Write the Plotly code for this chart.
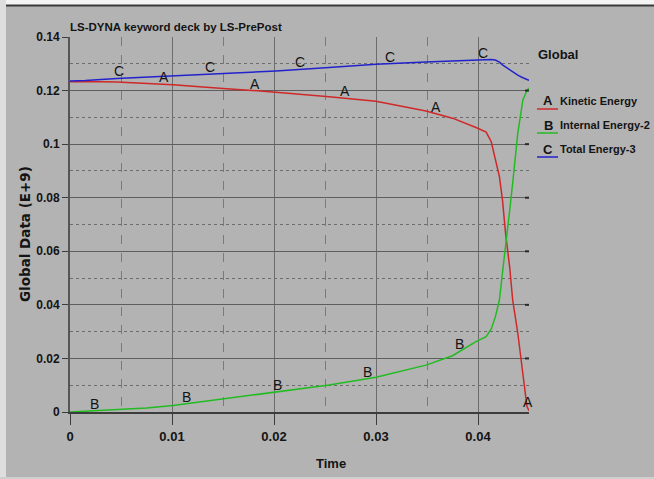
import numpy as np
import plotly.graph_objects as go

# ---- data -----------------------------------------------------------------
time = [0.0, 0.0015, 0.0046, 0.0075, 0.0101, 0.015, 0.0202, 0.0254, 0.030,
        0.0349, 0.0375, 0.0398, 0.0408, 0.0413, 0.0417, 0.0421, 0.0424,
        0.0427, 0.0431, 0.0434, 0.0439, 0.0444, 0.0448, 0.045]

kinetic = [0.1233, 0.1234, 0.1232, 0.1228, 0.1222, 0.1208, 0.1194, 0.1177,
           0.1160, 0.1124, 0.1097, 0.1062, 0.1045, 0.1009, 0.0945, 0.0879,
           0.0792, 0.0668, 0.0543, 0.0418, 0.0295, 0.0132, 0.0020, 0.0005]

internal = [0.0, 0.0003, 0.0007, 0.0015, 0.0024, 0.0048, 0.0076, 0.0101,
            0.0130, 0.0175, 0.0210, 0.0263, 0.0281, 0.0310, 0.0355, 0.0418,
            0.0520, 0.0630, 0.0750, 0.0855, 0.1040, 0.1165, 0.1200, 0.1210]

total = [0.1236, 0.1238, 0.1245, 0.1250, 0.1256, 0.1264, 0.1273, 0.1286,
         0.1298, 0.1307, 0.1311, 0.1316, 0.1316, 0.1316, 0.1314, 0.1306,
         0.1296, 0.1288, 0.1278, 0.1270, 0.1258, 0.1248, 0.1240, 0.1238]

series_names = ["Kinetic Energy", "Internal Energy-2", "Total Energy-3"]
series_letters = ["A", "B", "C"]
series_colors = ["#d02828", "#22bb22", "#2222cc"]

# where the curve letters sit along the time axis
letter_times_a = [0.0092, 0.0181, 0.0270, 0.0359, 0.0449]
letter_times_b = [0.0024, 0.0114, 0.0203, 0.0292, 0.0382]
letter_times_c = [0.0048, 0.0137, 0.0225, 0.0314, 0.0405]

x_tick_vals = [0, 0.01, 0.02, 0.03, 0.04]
x_tick_text = ["0", "0.01", "0.02", "0.03", "0.04"]
y_tick_vals = [0, 0.02, 0.04, 0.06, 0.08, 0.10, 0.12, 0.14]
y_tick_text = ["0", "0.02", "0.04", "0.06", "0.08", "0.1", "0.12", "0.14"]

title_text = "LS-DYNA keyword deck by LS-PrePost"
x_title = "Time"
y_title = "Global Data (E+9)"
legend_title = "Global"

# ---- layout geometry (pixels) ---------------------------------------------
W, H = 654, 479
L, R, T, B = 70, 529, 37, 412
BG = "#b3b3b3"
SANS = "Liberation Sans, Arial, sans-serif"
TEXT = "#141414"


def px(xp):
    return (xp - L) / (R - L)


def py(yp):
    return (B - yp) / (B - T)


fig = go.Figure()

all_series = [kinetic, internal, total]
for vals, name, col in zip(all_series, series_names, series_colors):
    fig.add_trace(go.Scatter(x=time, y=vals, mode="lines", name=name,
                             line=dict(color=col, width=1.5),
                             showlegend=False))

annotations = []

# letters riding on the curves
for vals, letter, times in zip(all_series, series_letters,
                               [letter_times_a, letter_times_b, letter_times_c]):
    for t in times:
        annotations.append(dict(
            x=t, y=float(np.interp(t, time, vals)), xref="x", yref="y",
            text=letter, showarrow=False, xanchor="center", yanchor="bottom",
            yshift=-3, font=dict(family=SANS, size=14, color=TEXT)))

# header
annotations.append(dict(x=px(68), y=py(35), xref="paper", yref="paper",
                        text=title_text, showarrow=False, xanchor="left",
                        yanchor="bottom",
                        font=dict(family=SANS, size=11.5, color=TEXT,
                                  weight="bold")))
# axis titles
annotations.append(dict(x=px(331), y=py(463), xref="paper", yref="paper",
                        text=x_title, showarrow=False, xanchor="center",
                        yanchor="middle",
                        font=dict(family=SANS, size=13, color=TEXT,
                                  weight="bold")))
annotations.append(dict(x=px(25), y=py(234), xref="paper", yref="paper",
                        text=y_title, showarrow=False, xanchor="center",
                        yanchor="middle", textangle=-90,
                        font=dict(family="DejaVu Sans", size=13.5, color=TEXT,
                                  weight="bold")))

# legend block on the right
annotations.append(dict(x=px(536), y=py(54), xref="paper", yref="paper",
                        text=legend_title, showarrow=False, xanchor="left",
                        yanchor="middle",
                        font=dict(family=SANS, size=13, color=TEXT,
                                  weight="bold")))
shapes = []
for i, (name, letter, col) in enumerate(zip(series_names, series_letters,
                                            series_colors)):
    yc = 101 + 24 * i
    annotations.append(dict(x=px(548), y=py(yc), xref="paper", yref="paper",
                            text=letter, showarrow=False, xanchor="center",
                            yanchor="middle",
                            font=dict(family=SANS, size=13, color=TEXT,
                                      weight="bold")))
    annotations.append(dict(x=px(558), y=py(yc), xref="paper", yref="paper",
                            text=name, showarrow=False, xanchor="left",
                            yanchor="middle",
                            font=dict(family=SANS, size=11, color=TEXT,
                                      weight="bold")))
    shapes.append(dict(type="line", xref="paper", yref="paper",
                       x0=px(537), x1=px(558), y0=py(yc + 8), y1=py(yc + 8),
                       line=dict(color=col, width=1.5)))

# window frame: light strip on top/left, dark rule under the top strip
shapes.append(dict(type="rect", xref="paper", yref="paper", layer="below",
                   x0=px(0), x1=px(W), y0=py(0), y1=py(5),
                   fillcolor="#f4f4f4", line=dict(width=0)))
shapes.append(dict(type="rect", xref="paper", yref="paper", layer="below",
                   x0=px(0), x1=px(6), y0=py(0), y1=py(H),
                   fillcolor="#dedede", line=dict(width=0)))
shapes.append(dict(type="rect", xref="paper", yref="paper", layer="below",
                   x0=px(0), x1=px(W), y0=py(477), y1=py(H),
                   fillcolor="#cfcfcf", line=dict(width=0)))
shapes.append(dict(type="line", xref="paper", yref="paper",
                   x0=px(6), x1=px(W), y0=py(5.5), y1=py(5.5),
                   line=dict(color="#3a3a3a", width=2)))
# short dark ticks along the right edge at the major y values
for v in y_tick_vals[1:-1]:
    shapes.append(dict(type="line", xref="paper", yref="y",
                       x0=px(525), x1=px(529), y0=v, y1=v,
                       line=dict(color="#2a2a2a", width=2)))

fig.update_layout(
    width=W, height=H,
    margin=dict(l=L, r=W - R, t=T, b=H - B, pad=0),
    paper_bgcolor=BG, plot_bgcolor=BG,
    showlegend=False,
    annotations=annotations,
    shapes=shapes,
    xaxis=dict(range=[0, 0.045], tickmode="array", tickvals=x_tick_vals,
               ticktext=x_tick_text, showgrid=True, gridcolor="#6c6c6c",
               gridwidth=1, zeroline=False, showline=True, linecolor="#3c3c3c",
               linewidth=2, ticks="outside", ticklen=11, tickcolor="#3c3c3c",
               tickwidth=1,
               tickfont=dict(family=SANS, size=13, color=TEXT, weight="bold"),
               minor=dict(tickmode="linear", tick0=0, dtick=0.005,
                          showgrid=True, griddash="dash", gridcolor="#7a7a7a",
                          gridwidth=1, ticks="")),
    yaxis=dict(range=[0, 0.14], tickmode="array", tickvals=y_tick_vals,
               ticktext=y_tick_text, showgrid=True, gridcolor="#5e5e5e",
               gridwidth=1, zeroline=False, showline=True, linecolor="#555555",
               linewidth=2, ticks="outside", ticklen=6, tickcolor="#3c3c3c",
               tickwidth=1,
               tickfont=dict(family=SANS, size=12, color=TEXT, weight="bold"),
               minor=dict(tickmode="linear", tick0=0, dtick=0.01,
                          showgrid=True, griddash="dot", gridcolor="#6c6c6c",
                          gridwidth=1, ticks="")),
)

fig.write_html("out.html")
